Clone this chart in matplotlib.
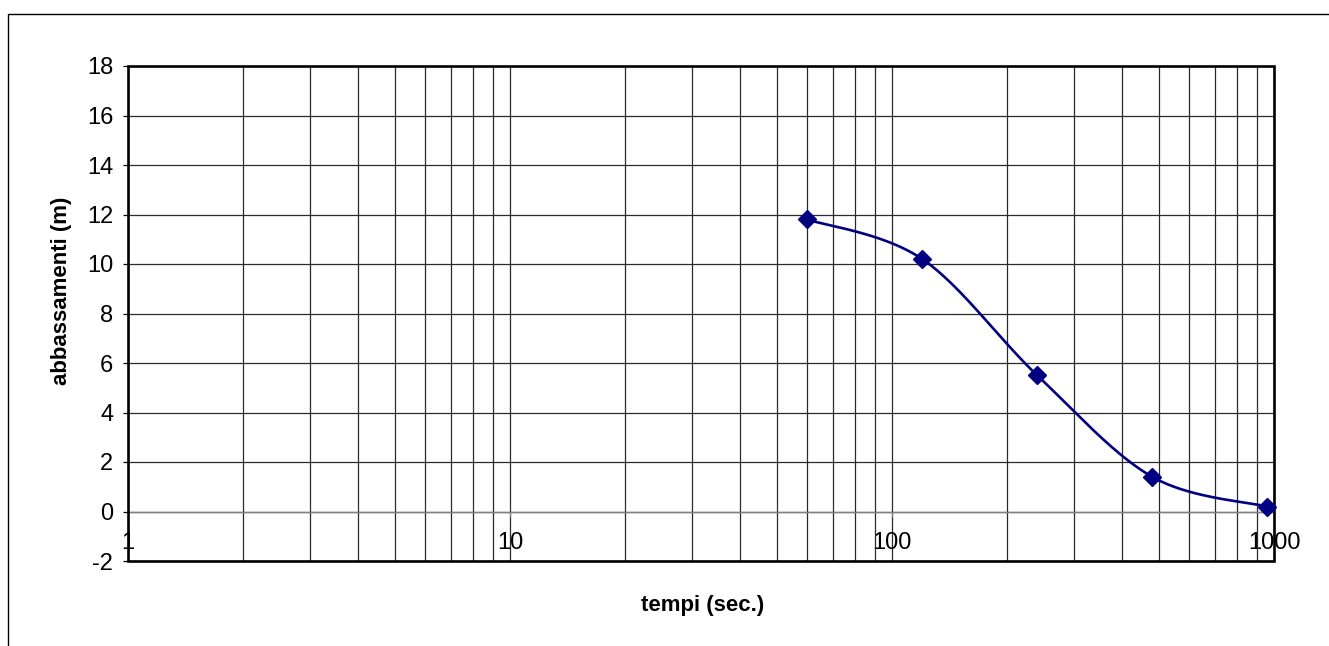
import matplotlib
matplotlib.use('Agg')
import matplotlib.pyplot as plt
import numpy as np
from matplotlib.patches import Rectangle
from matplotlib.ticker import LogLocator, NullFormatter, FixedLocator

plt.rcParams['font.family'] = ['Liberation Sans', 'DejaVu Sans']
plt.rcParams['axes.unicode_minus'] = False

# data
tempi = [60, 120, 240, 480, 960]
abbassamenti = [11.8, 10.2, 5.5, 1.4, 0.2]
x_ticks = [1, 10, 100, 1000]
x_tick_labels = ['1', '10', '100', '1000']
y_ticks = list(range(-2, 19, 2))

NAVY = '#000080'
GRID = '#2a2a2a'


def smooth_bezier(px, py, n=40):
    """Excel-like smoothed line through points (done in pixel space)"""
    pts = np.column_stack([px, py])
    out = []
    for i in range(len(pts) - 1):
        p0 = pts[i - 1] if i > 0 else pts[i]
        p1 = pts[i]
        p2 = pts[i + 1]
        p3 = pts[i + 2] if i + 2 < len(pts) else pts[i + 1]
        c1 = p1 + (p2 - p0) / 6
        c2 = p2 - (p3 - p1) / 6
        t = np.linspace(0, 1, n)[:, None]
        seg = ((1 - t) ** 3) * p1 + 3 * ((1 - t) ** 2) * t * c1 \
            + 3 * (1 - t) * t ** 2 * c2 + t ** 3 * p2
        out.append(seg if i == 0 else seg[1:])
    return np.vstack(out)


fig = plt.figure(figsize=(13.29, 6.46), dpi=100)
ax = fig.add_axes([128 / 1329, 1 - 561 / 646, 1146 / 1329, 495 / 646])

ax.set_xscale('log')
ax.set_xlim(1, 1000)
ax.set_ylim(-2, 18)

ax.set_yticks(y_ticks)
ax.xaxis.set_major_locator(FixedLocator(x_ticks))
ax.set_xticklabels(x_tick_labels)
ax.xaxis.set_minor_locator(LogLocator(base=10, subs=np.arange(2, 10)))
ax.xaxis.set_minor_formatter(NullFormatter())

ax.grid(True, which='major', axis='both', color=GRID, linewidth=0.9)
ax.grid(True, which='minor', axis='x', color=GRID, linewidth=0.9)
ax.set_axisbelow(True)

for s in ['top', 'right', 'left']:
    ax.spines[s].set_visible(False)
ax.spines['bottom'].set_position(('data', 0))
ax.spines['bottom'].set_color('#808080')
ax.spines['bottom'].set_linewidth(1.0)

ax.tick_params(axis='y', direction='out', length=3.6, width=0.9, labelsize=17, pad=7)
ax.tick_params(axis='x', which='major', direction='out', length=3.6, width=0.9,
               color='#808080', labelsize=17, pad=11)
ax.tick_params(axis='x', which='minor', length=0)

# plot frame drawn on top
ax.add_patch(Rectangle((0, 0), 1, 1, transform=ax.transAxes, fill=False,
                       edgecolor='black', linewidth=1.9, zorder=6, clip_on=False))

# smoothed line
disp = ax.transData.transform(np.column_stack([tempi, abbassamenti]))
curve = smooth_bezier(disp[:, 0], disp[:, 1])
curve_data = ax.transData.inverted().transform(curve)
ax.plot(curve_data[:, 0], curve_data[:, 1], color=NAVY, linewidth=1.9, zorder=7, clip_on=False)
ax.plot(tempi, abbassamenti, linestyle='none', marker='D', markersize=9,
        color=NAVY, zorder=8, clip_on=False)

fig.text(62 / 1329, 1 - 291 / 646, 'abbassamenti (m)', rotation=90, ha='center', va='center',
         fontsize=16, fontweight='bold')
fig.text(703 / 1329, 1 - 605 / 646, 'tempi (sec.)', ha='center', va='center',
         fontsize=16, fontweight='bold')

# outer chart border (right/bottom fall outside the picture)
fig.add_artist(Rectangle((8 / 1329, -0.1), 1.2, 1 - 14 / 646 + 0.1,
                         transform=fig.transFigure, fill=False,
                         edgecolor='black', linewidth=1.0))

plt.savefig('out.png', dpi=100)
plt.close()
